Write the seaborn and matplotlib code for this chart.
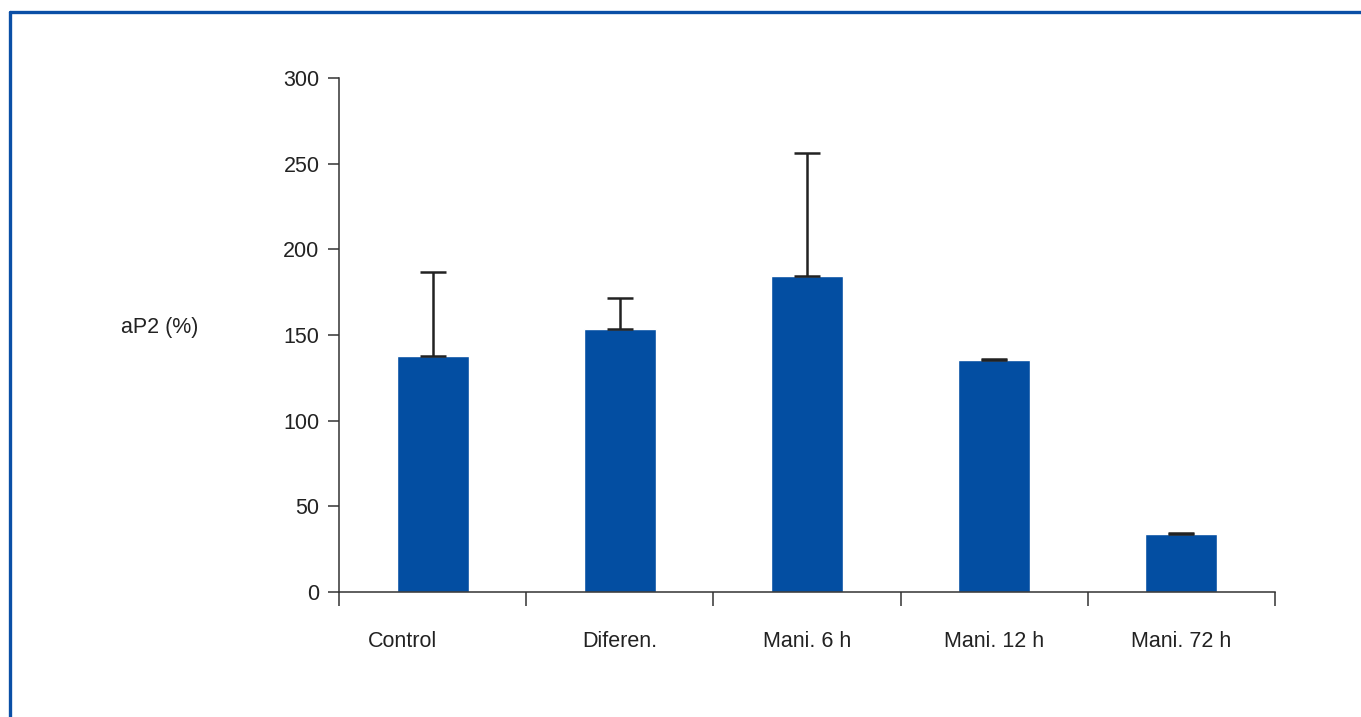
import matplotlib
matplotlib.use("Agg")
import matplotlib.pyplot as plt
import matplotlib.transforms as mtransforms
from matplotlib.lines import Line2D
import numpy as np
import pandas as pd
import seaborn as sns

# Expression of aP2 relative to control (%), mean and upper error
groups = ["Control", "Diferen.", "Mani. 6 h", "Mani. 12 h", "Mani. 72 h"]
means = [137.5, 153.5, 184.5, 135.5, 34.0]
errors = [49.0, 18.0, 71.5, 0.6, 0.6]
yticks = [0, 50, 100, 150, 200, 250, 300]

bar_color = "#034EA2"
frame_color = "#0A4FA6"

sns.set_theme(style="white")
plt.rcParams["font.family"] = ["Liberation Sans", "DejaVu Sans"]

df = pd.DataFrame({"group": groups, "value": means})

fig = plt.figure(figsize=(13.61, 7.17), dpi=100)
ax = fig.add_axes([0.2491, 0.1743, 0.6877, 0.7169])

sns.barplot(data=df, x="group", y="value", order=groups, color=bar_color,
            saturation=1, width=0.385, errorbar=None, ax=ax)

# one-sided (upward) error bars with caps at both ends
x = np.arange(len(groups))
ax.errorbar(x, means, yerr=[np.zeros(len(means)), errors], fmt="none",
            ecolor="#222222", elinewidth=1.8, capsize=9.5, capthick=1.8, zorder=5)

ax.set_xlim(-0.5, len(groups) - 0.5)
ax.set_ylim(0, 300)
ax.set_yticks(yticks)
ax.set_yticklabels([str(v) for v in yticks])

# category labels without ticks; boundary ticks pointing down
ax.set_xticks(x)
ax.set_xticklabels(groups)
ax.set_xticks(np.arange(-0.5, len(groups)), minor=True)
ax.tick_params(axis="x", which="major", length=0, pad=28, labelsize=15.5,
               colors="#222222", bottom=True)
ax.tick_params(axis="x", which="minor", length=10, width=1.1, color="#333333",
               direction="out", bottom=True)
ax.tick_params(axis="y", length=8, width=1.1, color="#333333", direction="out",
               pad=6, labelsize=15.5, labelcolor="#222222", left=True)

# the first category label sits a little left of its bar
first = ax.get_xticklabels()[0]
first.set_transform(first.get_transform() +
                    mtransforms.ScaledTranslation(-30 / 100, 0, fig.dpi_scale_trans))

ax.set_xlabel("")
ax.set_ylabel("")

for side in ["top", "right"]:
    ax.spines[side].set_visible(False)
for side in ["left", "bottom"]:
    ax.spines[side].set_color("#333333")
    ax.spines[side].set_linewidth(1.1)

fig.text(160 / 1361, 1 - 327 / 717, "aP2 (%)", ha="center", va="center",
         fontsize=15.5, color="#222222")

# blue frame lines along the top and left edges
fig.add_artist(Line2D([9.5 / 1361, 1.0], [1 - 12 / 717, 1 - 12 / 717],
                      transform=fig.transFigure, color=frame_color, linewidth=2.4))
fig.add_artist(Line2D([9.5 / 1361, 9.5 / 1361], [0.0, 1 - 12 / 717],
                      transform=fig.transFigure, color=frame_color, linewidth=2.4))

fig.savefig("out.png", dpi=100, facecolor="white")
